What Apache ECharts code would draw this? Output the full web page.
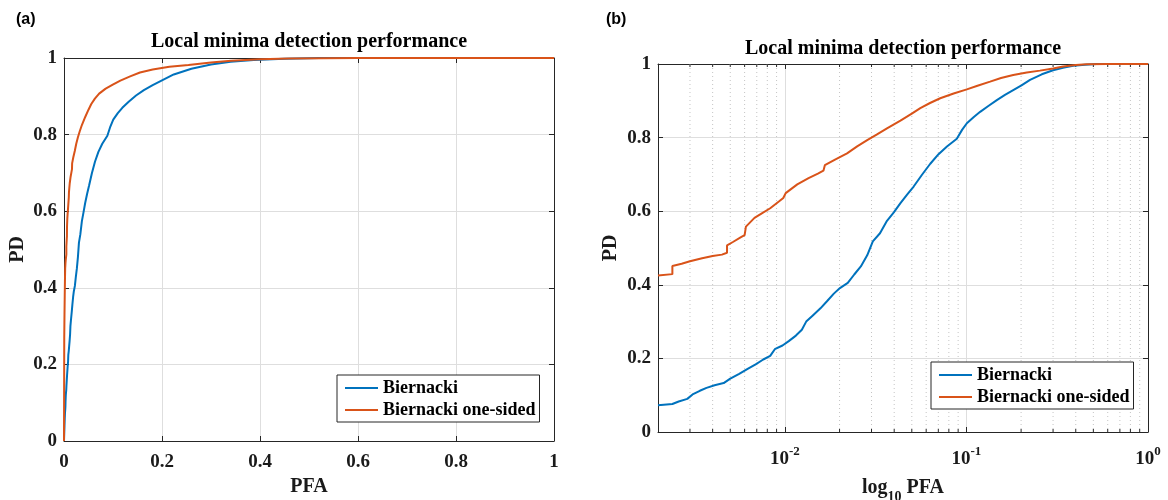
<!DOCTYPE html>
<html>
<head>
<meta charset="utf-8">
<script src="https://cdn.jsdelivr.net/npm/echarts@6/dist/echarts.min.js"></script>
<style>
  html, body { margin: 0; padding: 0; background: #fff; }
  #chart { width: 1168px; height: 500px; }
</style>
</head>
<body>
<div id="chart"></div>
<script>
// Empirical ROC curves, [PFA, PD]
const biernacki = [
  [0, 0], [0.0005, 0.02], [0.001, 0.04], [0.0015, 0.058], [0.002, 0.073],
  [0.0024, 0.076], [0.0026, 0.083], [0.0029, 0.09], [0.0031, 0.102], [0.0034, 0.112],
  [0.0037, 0.12], [0.0041, 0.127], [0.0046, 0.133], [0.005, 0.145], [0.0056, 0.158],
  [0.0062, 0.171], [0.0069, 0.184], [0.0076, 0.197], [0.0083, 0.207], [0.0088, 0.225],
  [0.0097, 0.235], [0.0105, 0.247], [0.0115, 0.262], [0.0124, 0.278], [0.0131, 0.3],
  [0.0142, 0.316], [0.0157, 0.336], [0.0171, 0.356], [0.0186, 0.376], [0.0201, 0.391],
  [0.0222, 0.405], [0.0241, 0.428], [0.0262, 0.45], [0.0284, 0.48], [0.0305, 0.518],
  [0.0334, 0.54], [0.0365, 0.574], [0.0398, 0.597], [0.0433, 0.622], [0.0471, 0.645],
  [0.0512, 0.667], [0.0569, 0.699], [0.0632, 0.729], [0.0702, 0.755], [0.0781, 0.776],
  [0.0885, 0.797], [0.0946, 0.821], [0.1005, 0.839], [0.1098, 0.856], [0.119, 0.87],
  [0.132, 0.886], [0.147, 0.902], [0.163, 0.916], [0.181, 0.929], [0.201, 0.942],
  [0.224, 0.957], [0.26, 0.972], [0.3, 0.983], [0.34, 0.99], [0.387, 0.995],
  [0.45, 0.998], [0.52, 1], [1, 1]
];
const biernackiOneSided = [
  [0, 0], [0.0005, 0.27], [0.001, 0.33], [0.0015, 0.38], [0.002, 0.425],
  [0.0024, 0.429], [0.0024, 0.451], [0.0027, 0.457], [0.003, 0.464], [0.0035, 0.472],
  [0.004, 0.478], [0.0045, 0.482], [0.0048, 0.487], [0.0048, 0.507], [0.0052, 0.517],
  [0.0057, 0.529], [0.006, 0.535], [0.0061, 0.558], [0.0068, 0.582], [0.0075, 0.595],
  [0.0083, 0.608], [0.0093, 0.627], [0.0098, 0.636], [0.0101, 0.649], [0.0108, 0.66],
  [0.0117, 0.673], [0.0135, 0.69], [0.0152, 0.702], [0.0163, 0.71], [0.0166, 0.725],
  [0.019, 0.741], [0.022, 0.757], [0.025, 0.776], [0.0284, 0.793], [0.032, 0.808],
  [0.0365, 0.825], [0.0433, 0.846], [0.05, 0.865], [0.0557, 0.88], [0.063, 0.894],
  [0.0717, 0.907], [0.085, 0.92], [0.1005, 0.931], [0.115, 0.941], [0.135, 0.952],
  [0.155, 0.962], [0.181, 0.97], [0.215, 0.977], [0.254, 0.982], [0.3, 0.988],
  [0.341, 0.993], [0.4, 0.997], [0.459, 0.999], [0.6, 1], [1, 1]
];
const seriesNames = ['Biernacki', 'Biernacki one-sided'];
const chartTitle = 'Local minima detection performance';
const panelLabels = ['(a)', '(b)'];

// Probability axes
const probMin = 0, probMax = 1, probStep = 0.2;
// Log PFA axis range and its minor (2..9 x 10^k) grid positions
const logMin = 0.002, logMax = 1;
const minorGridPFA = [
  0.003, 0.004, 0.005, 0.006, 0.007, 0.008, 0.009,
  0.02, 0.03, 0.04, 0.05, 0.06, 0.07, 0.08, 0.09,
  0.2, 0.3, 0.4, 0.5, 0.6, 0.7, 0.8, 0.9
];

const SERIF = '"Liberation Serif", "Times New Roman", serif';
const SANS = '"Liberation Sans", Arial, sans-serif';
const INK = '#262626';
const TEXT = '#1a1a1a';
const GRIDLINE = '#dedede';
const MINORLINE = '#c4c4c4';
const COLORS = ['#0072BD', '#D95319'];

const chart = echarts.init(document.getElementById('chart'), null, { renderer: 'canvas' });

const axisLineStyle = { show: true, onZero: false, lineStyle: { color: INK, width: 1 } };
const tickStyle = { show: true, inside: true, length: 5, lineStyle: { color: INK, width: 1 } };
const labelFont = { fontFamily: SERIF, fontWeight: 'bold', fontSize: 19, color: TEXT };
const nameFont = { fontFamily: SERIF, fontWeight: 'bold', fontSize: 20, color: TEXT };

function probAxis(gridIndex, position, main, extra) {
  return Object.assign({
    type: 'value', gridIndex, position,
    min: probMin, max: probMax, interval: probStep,
    axisLine: axisLineStyle, axisTick: tickStyle,
    axisLabel: main ? Object.assign({ margin: 7 }, labelFont) : { show: false },
    splitLine: { show: main, lineStyle: { color: GRIDLINE, width: 1 } }
  }, extra || {});
}

function logAxis(position, main) {
  return {
    type: 'log', logBase: 10, gridIndex: 1, position,
    min: logMin, max: logMax,
    axisLine: axisLineStyle, axisTick: tickStyle,
    axisLabel: main ? {
      margin: 13,
      formatter: function (v) {
        const e = Math.log10(v);
        if (Math.abs(e - Math.round(e)) > 1e-6) return '';
        return '{b|10}{s|' + Math.round(e) + '}';
      },
      rich: {
        b: { fontFamily: SERIF, fontWeight: 'bold', fontSize: 19, color: TEXT, lineHeight: 24, verticalAlign: 'bottom' },
        s: { fontFamily: SERIF, fontWeight: 'bold', fontSize: 13, color: TEXT, lineHeight: 13, verticalAlign: 'top' }
      }
    } : { show: false },
    splitLine: { show: main, lineStyle: { color: GRIDLINE, width: 1 } },
    name: main ? '{n|log}{sub|10}{n| PFA}' : '',
    nameLocation: 'middle', nameGap: 46, nameMoveOverlap: false,
    nameTextStyle: {
      rich: {
        n: Object.assign({ lineHeight: 22, verticalAlign: 'top' }, nameFont),
        sub: { fontFamily: SERIF, fontWeight: 'bold', fontSize: 14, color: TEXT, lineHeight: 26, verticalAlign: 'bottom' }
      }
    }
  };
}

function curve(name, data, xi, yi, color) {
  return {
    type: 'line', name, data, xAxisIndex: xi, yAxisIndex: yi,
    showSymbol: false, symbol: 'none', clip: false, z: 3,
    lineStyle: { color, width: 2 }, itemStyle: { color },
    emphasis: { disabled: true }
  };
}

const inLogRange = p => p[0] >= logMin && p[0] <= logMax;

function legendFor(left, top) {
  return {
    data: seriesNames, orient: 'vertical', left, top,
    icon: 'rect', itemWidth: 33, itemHeight: 2, itemGap: 4,
    padding: [4, 4, 3, 8],
    borderColor: INK, borderWidth: 1, backgroundColor: '#fff',
    selectedMode: false,
    textStyle: { fontFamily: SERIF, fontWeight: 'bold', fontSize: 18, lineHeight: 18, color: '#000' }
  };
}

const option = {
  animation: false,
  backgroundColor: '#fff',
  grid: [
    { left: 64, top: 58, width: 490, height: 383, containLabel: false, outerBoundsMode: 'none' },
    { left: 658, top: 64, width: 490, height: 368, containLabel: false, outerBoundsMode: 'none' }
  ],
  xAxis: [
    probAxis(0, 'bottom', true, { name: 'PFA', nameLocation: 'middle', nameGap: 36, nameTextStyle: nameFont,
      axisLabel: Object.assign({ margin: 12 }, labelFont) }),
    probAxis(0, 'top', false),
    logAxis('bottom', true),
    logAxis('top', false)
  ],
  yAxis: [
    probAxis(0, 'left', true, { name: 'PD', nameLocation: 'middle', nameGap: 36, nameTextStyle: nameFont }),
    probAxis(0, 'right', false),
    probAxis(1, 'left', true, { name: 'PD', nameLocation: 'middle', nameGap: 37, nameTextStyle: nameFont }),
    probAxis(1, 'right', false)
  ],
  legend: [legendFor(337, 375), legendFor(931, 362)],
  graphic: [
    { type: 'text', x: 309, y: 42, silent: true,
      style: { text: chartTitle, font: 'bold 20px ' + SERIF, fill: '#000', textAlign: 'center', textVerticalAlign: 'middle', align: 'center', verticalAlign: 'middle' } },
    { type: 'text', x: 903, y: 49, silent: true,
      style: { text: chartTitle, font: 'bold 20px ' + SERIF, fill: '#000', textAlign: 'center', textVerticalAlign: 'middle', align: 'center', verticalAlign: 'middle' } },
    { type: 'text', x: 16, y: 20, silent: true,
      style: { text: panelLabels[0], font: 'bold 16px ' + SANS, fill: '#000', textVerticalAlign: 'middle', verticalAlign: 'middle' } },
    { type: 'text', x: 606, y: 20, silent: true,
      style: { text: panelLabels[1], font: 'bold 16px ' + SANS, fill: '#000', textVerticalAlign: 'middle', verticalAlign: 'middle' } }
  ],
  series: [
    // dotted minor grid and minor ticks of the log axis
    {
      type: 'custom', xAxisIndex: 2, yAxisIndex: 2, z: 1, silent: true,
      data: minorGridPFA.map(v => [v, 0]),
      renderItem: function (params, api) {
        const x = api.coord([api.value(0), 0])[0];
        const cs = params.coordSys;
        const top = cs.y, bottom = cs.y + cs.height;
        return {
          type: 'group',
          children: [
            { type: 'line', shape: { x1: x, y1: top, x2: x, y2: bottom },
              style: { stroke: MINORLINE, lineWidth: 1, lineDash: [1, 3] } },
            { type: 'line', shape: { x1: x, y1: bottom, x2: x, y2: bottom - 3 },
              style: { stroke: INK, lineWidth: 1 } },
            { type: 'line', shape: { x1: x, y1: top, x2: x, y2: top + 3 },
              style: { stroke: INK, lineWidth: 1 } }
          ]
        };
      }
    },
    curve(seriesNames[0], biernacki, 0, 0, COLORS[0]),
    curve(seriesNames[1], biernackiOneSided, 0, 0, COLORS[1]),
    curve(seriesNames[0], biernacki.filter(inLogRange), 2, 2, COLORS[0]),
    curve(seriesNames[1], biernackiOneSided.filter(inLogRange), 2, 2, COLORS[1])
  ]
};

chart.setOption(option);
</script>
</body>
</html>
